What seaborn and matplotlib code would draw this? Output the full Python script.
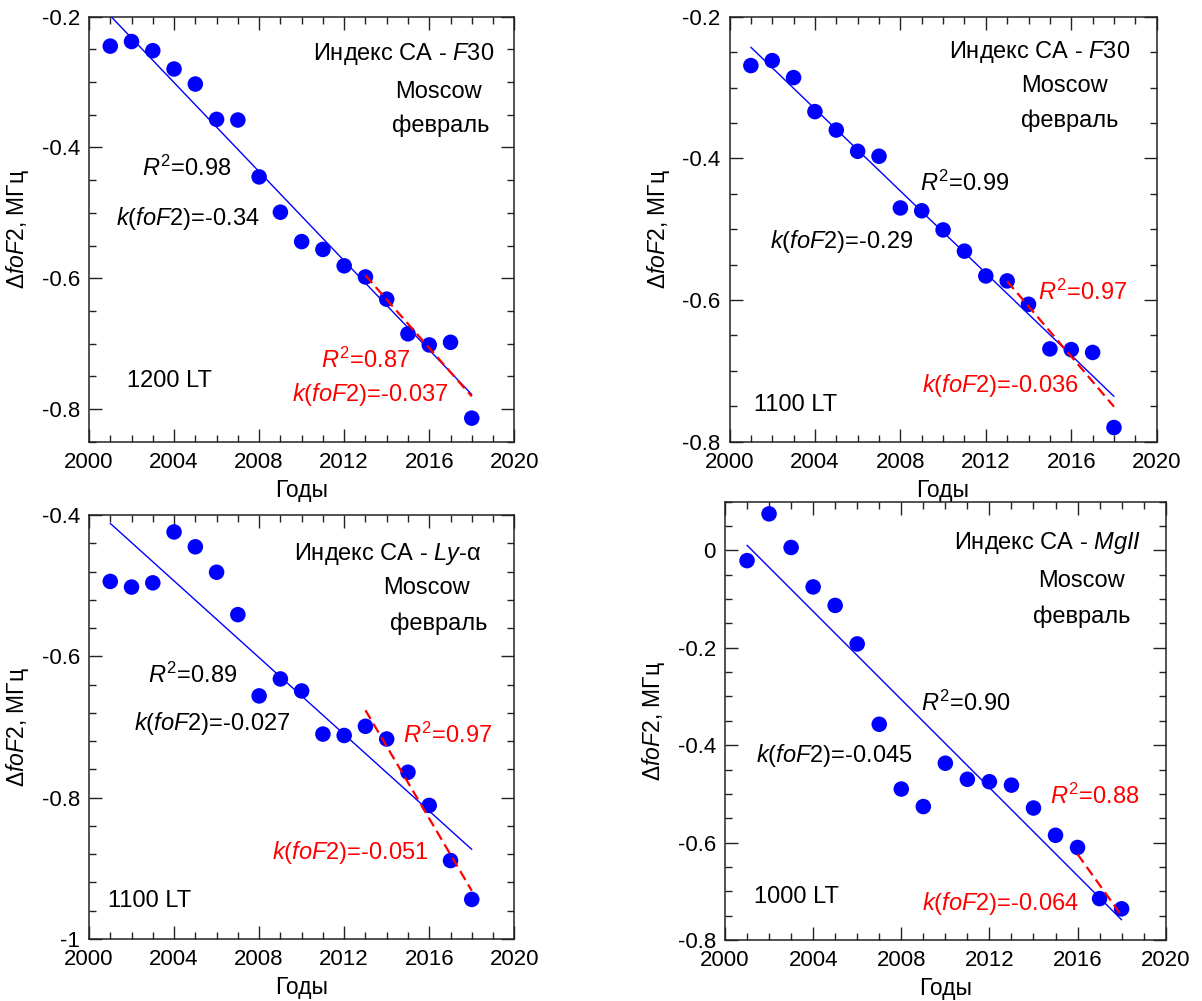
import matplotlib
matplotlib.use("Agg")
import matplotlib.pyplot as plt
import seaborn as sns
import pandas as pd
from matplotlib.ticker import MultipleLocator, FuncFormatter

# ---------------- data ----------------
years = [2001, 2002, 2003, 2004, 2005, 2006, 2007, 2008, 2009,
         2010, 2011, 2012, 2013, 2014, 2015, 2016, 2017, 2018]

f30_1200 = [-0.245, -0.238, -0.252, -0.280, -0.303, -0.357, -0.358, -0.445, -0.499,
            -0.544, -0.556, -0.581, -0.598, -0.632, -0.685, -0.702, -0.698, -0.814]
f30_1100 = [-0.269, -0.262, -0.286, -0.334, -0.360, -0.390, -0.397, -0.470, -0.474,
            -0.501, -0.531, -0.566, -0.573, -0.606, -0.669, -0.670, -0.674, -0.780]
lya_1100 = [-0.494, -0.502, -0.496, -0.424, -0.445, -0.481, -0.541, -0.656, -0.632,
            -0.649, -0.710, -0.712, -0.699, -0.717, -0.764, -0.811, -0.889, -0.944]
mgii_1000 = [-0.021, 0.075, 0.006, -0.075, -0.113, -0.192, -0.357, -0.490, -0.526,
             -0.437, -0.470, -0.475, -0.482, -0.529, -0.585, -0.610, -0.715, -0.736]

series = [f30_1200, f30_1100, lya_1100, mgii_1000]
trend_start = [2013, 2013, 2013, 2016]

index_titles = [r"Индекс CA - $\mathit{F}$30", r"Индекс CA - $\mathit{F}$30",
                r"Индекс CA - $\mathit{Ly}$-α", r"Индекс CA - $\mathit{MgII}$"]
station = "Moscow"
month = "февраль"
r2_all = ["0.98", "0.99", "0.89", "0.90"]
k_all = ["-0.34", "-0.29", "-0.027", "-0.045"]
r2_tail = ["0.87", "0.97", "0.97", "0.88"]
k_tail = ["-0.037", "-0.036", "-0.051", "-0.064"]
local_times = ["1200 LT", "1100 LT", "1100 LT", "1000 LT"]

y_limits = [(-0.85, -0.2), (-0.8, -0.2), (-1.0, -0.4), (-0.8, 0.1)]
y_minor = [0.05, 0.05, 0.04, 0.05]
x_limits = (2000, 2020)

# ---------------- layout ----------------
W, H = 1202, 1001
axes_px = [  # left, top, right, bottom in pixels
    (89.0, 16.7, 514.3, 441.7),
    (729.5, 16.7, 1156.7, 441.7),
    (89.0, 515.0, 514.3, 939.0),
    (725.0, 501.7, 1165.7, 940.0),
]
# text positions in axes fraction: title(right-aligned), moscow, month, R2, k, R2 red, k red, LT
text_pos = [
    dict(title=(0.952, 0.913), mos=(0.822, 0.822), mon=(0.827, 0.744), r2=(0.229, 0.643),
         k=(0.233, 0.526), r2r=(0.650, 0.192), kr=(0.662, 0.110), lt=(0.189, 0.143)),
    dict(title=(0.938, 0.916), mos=(0.784, 0.836), mon=(0.797, 0.756), r2=(0.551, 0.608),
         k=(0.262, 0.472), r2r=(0.826, 0.352), kr=(0.635, 0.132), lt=(0.154, 0.087)),
    dict(title=(0.922, 0.908), mos=(0.794, 0.828), mon=(0.822, 0.743), r2=(0.243, 0.621),
         k=(0.289, 0.508), r2r=(0.843, 0.480), kr=(0.615, 0.205), lt=(0.143, 0.089)),
    dict(title=(0.945, 0.906), mos=(0.809, 0.820), mon=(0.810, 0.737), r2=(0.546, 0.541),
         k=(0.248, 0.420), r2r=(0.838, 0.327), kr=(0.624, 0.084), lt=(0.162, 0.098)),
]

sns.set_theme(style="ticks")
plt.rcParams["font.family"] = ["Liberation Sans", "DejaVu Sans"]
plt.rcParams["mathtext.fontset"] = "custom"
plt.rcParams["mathtext.rm"] = "Liberation Sans"
plt.rcParams["mathtext.it"] = "Liberation Sans:italic"
plt.rcParams["mathtext.bf"] = "Liberation Sans:bold"
plt.rcParams["axes.unicode_minus"] = False

TICK_FS = 16
TXT_FS = 17
LAB_FS = 16.5

fig = plt.figure(figsize=(W / 100, H / 100), dpi=100)
fig.patch.set_facecolor("white")


def fmt(v, pos):
    if abs(v) < 1e-9:
        return "0"
    return f"{round(v, 3):g}"


for i in range(4):
    l, t, r, b = axes_px[i]
    ax = fig.add_axes([l / W, 1 - b / H, (r - l) / W, (b - t) / H])
    ax.set_facecolor("white")
    df = pd.DataFrame({"year": years, "dfoF2": series[i]})
    tail = df[df["year"] >= trend_start[i]]

    sns.scatterplot(data=df, x="year", y="dfoF2", ax=ax, color="#0000ff",
                    s=125, edgecolor="none", linewidth=0, zorder=2, legend=False)
    sns.regplot(data=df, x="year", y="dfoF2", ax=ax, scatter=False, ci=None,
                color="#0000ff", line_kws=dict(lw=1.0, zorder=3))
    sns.regplot(data=tail, x="year", y="dfoF2", ax=ax, scatter=False, ci=None,
                color="#ff0000", line_kws=dict(lw=1.6, zorder=4, dashes=(4.6, 2.4)))

    ax.set_xlim(*x_limits)
    ax.set_ylim(*y_limits[i])
    ax.xaxis.set_major_locator(MultipleLocator(4))
    ax.xaxis.set_minor_locator(MultipleLocator(1))
    ax.yaxis.set_major_locator(MultipleLocator(0.2))
    ax.yaxis.set_minor_locator(MultipleLocator(y_minor[i]))
    ax.yaxis.set_major_formatter(FuncFormatter(fmt))
    ax.tick_params(which="both", direction="in", top=True, right=True,
                   color="#222222", width=1.0)
    ax.tick_params(which="major", length=9.4, labelsize=TICK_FS, labelcolor="black")
    ax.tick_params(which="minor", length=5.0)
    ax.tick_params(axis="x", which="major", pad=7.5)
    ax.tick_params(axis="y", which="major", pad=6.5)
    for sp in ax.spines.values():
        sp.set_color("#222222")
        sp.set_linewidth(1.1)
        sp.set_visible(True)

    ax.set_xlabel("Годы", fontsize=LAB_FS, color="black")
    ax.set_ylabel(r"$\mathit{Δ foF}$2, МГц", fontsize=LAB_FS, color="black")
    wpx = r - l
    hpx = b - t
    ax.yaxis.set_label_coords(-58.0 / wpx, 0.5)
    ax.xaxis.set_label_coords(0.5, -37.0 / hpx)

    p = text_pos[i]
    kw = dict(transform=ax.transAxes, fontsize=TXT_FS, va="center")
    ax.text(*p["title"], index_titles[i], ha="right", color="black", **kw)
    ax.text(*p["mos"], station, ha="center", color="black", **kw)
    ax.text(*p["mon"], month, ha="center", color="black", **kw)
    ax.text(*p["r2"], r"$\mathit{R}^{2}$=" + r2_all[i], ha="center", color="black", **kw)
    ax.text(*p["k"], r"$\mathit{k}$($\mathit{foF}$2)=" + k_all[i], ha="center", color="black", **kw)
    ax.text(*p["r2r"], r"$\mathit{R}^{2}$=" + r2_tail[i], ha="center", color="#ff0000", **kw)
    ax.text(*p["kr"], r"$\mathit{k}$($\mathit{foF}$2)=" + k_tail[i], ha="center", color="#ff0000", **kw)
    ax.text(*p["lt"], local_times[i], ha="center", color="black", **kw)

fig.savefig("out.png", dpi=100, facecolor="white")
